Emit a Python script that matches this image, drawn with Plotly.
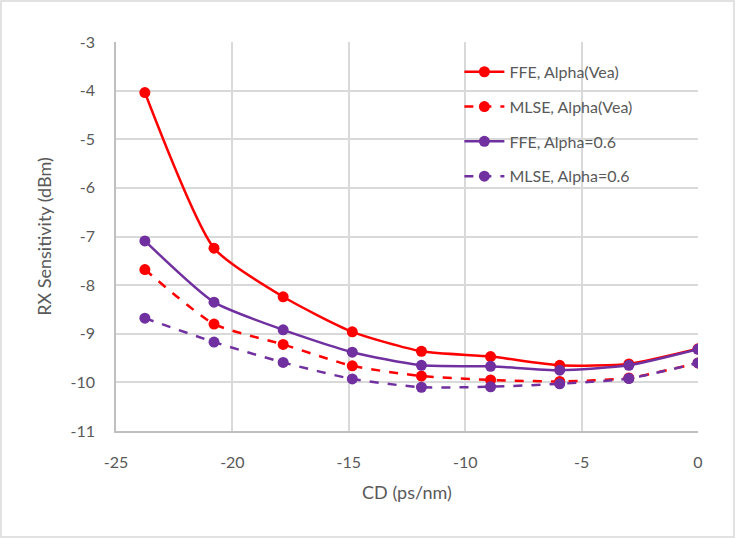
import plotly.graph_objects as go

cd = [-23.76, -20.79, -17.82, -14.85, -11.88, -8.91, -5.94, -2.97, 0.0]
ffe_vea = [-4.04, -7.24, -8.24, -8.96, -9.36, -9.47, -9.65, -9.62, -9.31]
mlse_vea = [-7.68, -8.80, -9.22, -9.66, -9.87, -9.95, -9.98, -9.91, -9.60]
ffe_06 = [-7.09, -8.35, -8.92, -9.38, -9.65, -9.67, -9.75, -9.65, -9.32]
mlse_06 = [-8.68, -9.17, -9.59, -9.93, -10.10, -10.09, -10.03, -9.92, -9.60]

names = ["FFE, Alpha(Vea)", "MLSE, Alpha(Vea)", "FFE, Alpha=0.6", "MLSE, Alpha=0.6"]
series = [ffe_vea, mlse_vea, ffe_06, mlse_06]
colors = ["#FF0000", "#FF0000", "#7030A0", "#7030A0"]
dashes = ["solid", "dash", "solid", "dash"]

xticks = [-25, -20, -15, -10, -5, 0]
xticklabels = ["-25", "-20", "-15", "-10", "-5", "0"]
yticks = [-11, -10, -9, -8, -7, -6, -5, -4, -3]
yticklabels = ["-11", "-10", "-9", "-8", "-7", "-6", "-5", "-4", "-3"]

font = "Lato, Open Sans, sans-serif"
grey = "#595959"

fig = go.Figure()
for i, (n, s, c, d) in enumerate(zip(names, series, colors, dashes)):
    fig.add_trace(go.Scatter(
        x=cd, y=s, name=n, mode="lines+markers", legendgroup=str(i),
        line=dict(color=c, width=2.5, dash=d, shape="spline", smoothing=0.6),
        marker=dict(color=c, size=11, symbol="circle"),
    ))

W, H = 736, 539
ml, mr, mt, mb = 116, 38, 42, 108
pw, ph = W - ml - mr, H - mt - mb

fig.update_layout(
    width=W, height=H,
    margin=dict(l=ml, r=mr, t=mt, b=mb),
    paper_bgcolor="white", plot_bgcolor="white",
    font=dict(family=font, color=grey, size=16),
    showlegend=True,
    legend=dict(x=0.59, y=0.967, xanchor="left", yanchor="top",
                bgcolor="rgba(0,0,0,0)", font=dict(size=16, color=grey),
                tracegroupgap=11, itemwidth=40),
    xaxis=dict(range=[-25, 0], tickvals=xticks, ticktext=xticklabels,
               showgrid=True, gridcolor="#D9D9D9", gridwidth=1.5,
               showline=True, linecolor="#BFBFBF", linewidth=1.5,
               zeroline=False, ticks="", ticklen=0, ticklabelstandoff=16,
               title=dict(text="CD (ps/nm)", font=dict(size=18, color=grey), standoff=16),
               tickfont=dict(size=16, color=grey)),
    yaxis=dict(range=[-11, -3], tickvals=yticks, ticktext=yticklabels,
               showgrid=True, gridcolor="#D9D9D9", gridwidth=1.5,
               showline=True, linecolor="#BFBFBF", linewidth=1.5,
               zeroline=False, ticks="", ticklen=0, ticklabelstandoff=16,
               title=dict(text="RX Sensitivity (dBm)", font=dict(size=18, color=grey), standoff=14),
               tickfont=dict(size=16, color=grey)),
)

# outer chart border
fig.add_shape(type="rect", xref="paper", yref="paper",
              x0=(1 - ml) / pw, x1=(W - 2 - ml) / pw,
              y0=-(mb - 2) / ph, y1=1 + (mt - 1) / ph,
              line=dict(color="#D9D9D9", width=1.5), fillcolor="rgba(0,0,0,0)", layer="below")

fig.write_html("out.html")
